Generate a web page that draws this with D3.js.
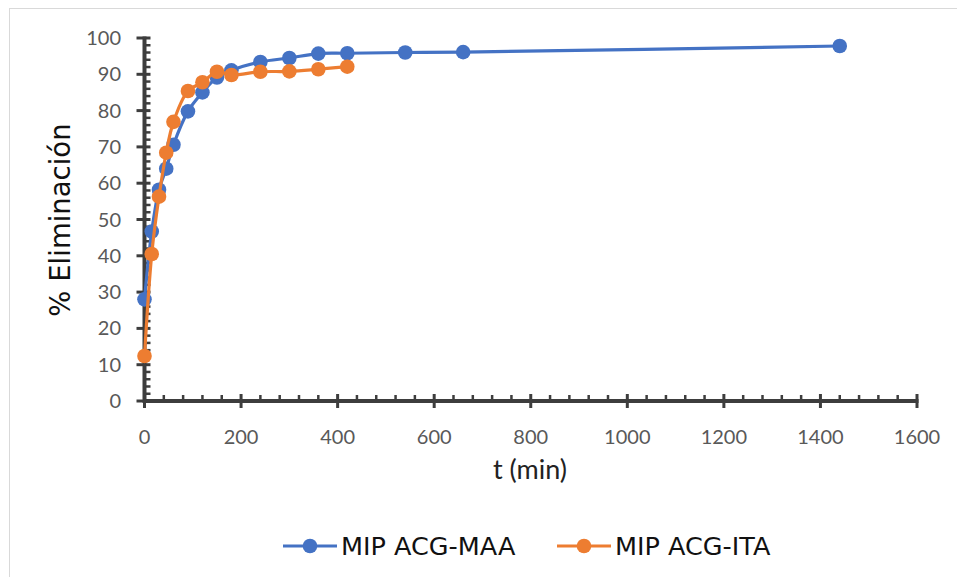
<!DOCTYPE html>
<html>
<head>
<meta charset="utf-8">
<script src="https://cdn.jsdelivr.net/npm/d3@7/dist/d3.min.js"></script>
<style>
  html, body { margin: 0; padding: 0; background: #ffffff; }
  svg { display: block; }
</style>
</head>
<body>
<svg id="chart" width="957" height="577"></svg>
<script>
// ---- Data ----
const maaTime = [0, 15, 30, 45, 60, 90, 120, 150, 180, 240, 300, 360, 420, 540, 660, 1440];
const maaRemoval = [28.0, 46.7, 58.2, 64.0, 70.6, 79.8, 85.0, 89.1, 91.1, 93.4, 94.5, 95.7, 95.8, 96.0, 96.1, 97.8];
const itaTime = [0, 15, 30, 45, 60, 90, 120, 150, 180, 240, 300, 360, 420];
const itaRemoval = [12.4, 40.5, 56.3, 68.4, 76.9, 85.4, 87.8, 90.7, 89.8, 90.7, 90.8, 91.4, 92.1];
const seriesNames = ["MIP ACG-MAA", "MIP ACG-ITA"];
const seriesColors = ["#4472C4", "#ED7D31"];
const xTicks = [0, 200, 400, 600, 800, 1000, 1200, 1400, 1600];
const yTicks = [0, 10, 20, 30, 40, 50, 60, 70, 80, 90, 100];
const xTitle = "t (min)";
const yTitle = "% Eliminación";

// ---- Layout ----
const svg = d3.select("#chart");
const x = d3.scaleLinear().domain([0, 1600]).range([144.5, 917]);
const y = d3.scaleLinear().domain([0, 100]).range([401, 38]);
const axisColor = "#3d3d3d";
const labelColor = "#595959";

// chart border
svg.append("rect")
  .attr("x", 9.5).attr("y", 8.5).attr("width", 960).attr("height", 580)
  .attr("fill", "none").attr("stroke", "#d9d9d9").attr("stroke-width", 1);

const g = svg.append("g");

// minor ticks
const xMinor = d3.range(0, 1601, 40).filter(v => v % 200 !== 0);
const yMinor = d3.range(0, 101, 2).filter(v => v % 10 !== 0);

g.selectAll(".xminor").data(xMinor).enter().append("line")
  .attr("x1", d => x(d)).attr("x2", d => x(d))
  .attr("y1", y(0)).attr("y2", y(0) - 6)
  .attr("stroke", axisColor).attr("stroke-width", 2.5);

g.selectAll(".yminor").data(yMinor).enter().append("line")
  .attr("x1", x(0)).attr("x2", x(0) + 6)
  .attr("y1", d => y(d)).attr("y2", d => y(d))
  .attr("stroke", axisColor).attr("stroke-width", 2.5);

// major ticks (cross)
g.selectAll(".xmajor").data(xTicks).enter().append("line")
  .attr("x1", d => x(d)).attr("x2", d => x(d))
  .attr("y1", y(0) - 7).attr("y2", y(0) + 7)
  .attr("stroke", axisColor).attr("stroke-width", 3);

g.selectAll(".ymajor").data(yTicks).enter().append("line")
  .attr("x1", x(0) - 8).attr("x2", x(0) + 6)
  .attr("y1", d => y(d)).attr("y2", d => y(d))
  .attr("stroke", axisColor).attr("stroke-width", 3);

// axis lines
g.append("line")
  .attr("x1", x(0)).attr("x2", x(1600) + 1.5)
  .attr("y1", y(0)).attr("y2", y(0))
  .attr("stroke", axisColor).attr("stroke-width", 4);
g.append("line")
  .attr("x1", x(0)).attr("x2", x(0))
  .attr("y1", y(0) + 2).attr("y2", y(100) - 1.5)
  .attr("stroke", axisColor).attr("stroke-width", 4);

// tick labels
g.selectAll(".xlab").data(xTicks).enter().append("text")
  .attr("x", d => x(d)).attr("y", 444)
  .attr("text-anchor", "middle")
  .attr("font-family", "Lato, 'Open Sans', sans-serif")
  .attr("font-size", 20).attr("fill", labelColor)
  .text(d => d);

g.selectAll(".ylab").data(yTicks).enter().append("text")
  .attr("x", 121).attr("y", d => y(d) + 7)
  .attr("text-anchor", "end")
  .attr("font-family", "Lato, 'Open Sans', sans-serif")
  .attr("font-size", 20).attr("fill", labelColor)
  .text(d => d);

// axis titles
svg.append("text")
  .attr("x", 530).attr("y", 479)
  .attr("text-anchor", "middle")
  .attr("font-family", "Lato, 'Open Sans', sans-serif")
  .attr("font-size", 27).attr("fill", "#222")
  .text(xTitle);

svg.append("text")
  .attr("transform", "translate(70,220) rotate(-90)")
  .attr("text-anchor", "middle")
  .attr("font-family", "'DejaVu Sans', Verdana, sans-serif")
  .attr("font-size", 27.5).attr("fill", "#111")
  .text(yTitle);

// series
const series = [
  { name: seriesNames[0], color: seriesColors[0], pts: maaTime.map((t, i) => [t, maaRemoval[i]]) },
  { name: seriesNames[1], color: seriesColors[1], pts: itaTime.map((t, i) => [t, itaRemoval[i]]) }
];

const line = d3.line()
  .x(d => x(d[0])).y(d => y(d[1]))
  .curve(d3.curveCatmullRom.alpha(0.5));

series.forEach(s => {
  const sg = svg.append("g");
  sg.append("path")
    .attr("d", line(s.pts))
    .attr("fill", "none").attr("stroke", s.color)
    .attr("stroke-width", 3.2).attr("stroke-linejoin", "round");
  sg.selectAll("circle").data(s.pts).enter().append("circle")
    .attr("cx", d => x(d[0])).attr("cy", d => y(d[1]))
    .attr("r", 7.3).attr("fill", s.color);
});

// legend
const legendItems = [
  { name: seriesNames[0], color: seriesColors[0], x0: 283 },
  { name: seriesNames[1], color: seriesColors[1], x0: 557 }
];
const ly = 546;
legendItems.forEach(it => {
  const lg = svg.append("g");
  lg.append("line")
    .attr("x1", it.x0).attr("x2", it.x0 + 54)
    .attr("y1", ly).attr("y2", ly)
    .attr("stroke", it.color).attr("stroke-width", 3.2);
  lg.append("circle")
    .attr("cx", it.x0 + 27).attr("cy", ly).attr("r", 7.3)
    .attr("fill", it.color);
  lg.append("text")
    .attr("x", it.x0 + 58).attr("y", ly + 9)
    .attr("font-family", "'DejaVu Sans', Verdana, sans-serif")
    .attr("font-size", 25.5).attr("fill", "#111")
    .text(it.name);
});
</script>
</body>
</html>
